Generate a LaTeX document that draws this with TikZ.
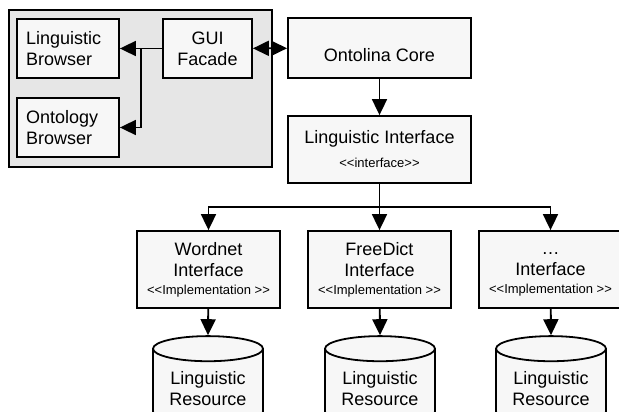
\documentclass[tikz,border=0pt]{standalone}
\usepackage{fontspec}
\setmainfont{Liberation Sans}
\usetikzlibrary{arrows.meta,shapes.geometric}

\definecolor{boxfill}{HTML}{F7F7F7}
\definecolor{panelfill}{HTML}{E6E6E6}

\tikzset{
    box/.style={draw, line width=1.8pt, fill=boxfill, inner sep=0pt,
        align=center, font=\fontsize{18}{21}\selectfont},
    store/.style={cylinder, shape border rotate=90, aspect=0.3, draw,
        line width=1.8pt, fill=boxfill, minimum width=110pt, minimum height=88pt,
        align=center, font=\fontsize{18}{21}\selectfont},
    link/.style={line width=1.8pt, -{Triangle[length=16pt,width=15pt]}},
}
\newcommand{\stereo}[1]{{\fontsize{13}{15}\selectfont <\kern0pt<#1>\kern0pt>}}

\begin{document}
\begin{tikzpicture}[x=1pt, y=-1pt]
        \useasboundingbox (0,0) rectangle (619,412);

        % GUI panel
        \node[draw, line width=1.8pt, fill=panelfill, minimum width=263pt, minimum height=157pt] (panel) at (140.5, 88.5) {};
        \node[box, minimum width=102pt, minimum height=59pt, text width=84pt, align=left] (lingbrowser) at (68, 48.5) {Linguistic\\Browser};
        \node[box, minimum width=102pt, minimum height=59pt, text width=84pt, align=left] (ontbrowser) at (68, 127.5) {Ontology\\Browser};
        \node[box, minimum width=89pt, minimum height=59pt] (gui) at (207.5, 48.5) {GUI\\Facade};

        % core and interfaces
        \node[box, minimum width=183pt, minimum height=60pt] (core) at (379.5, 48) {\raisebox{-13.5pt}[0pt][0pt]{Ontolina Core}};
        \node[box, minimum width=183pt, minimum height=67pt] (linginterface) at (379.5, 149.5) {Linguistic Interface\\[3pt]\stereo{interface}};
        \node[box, minimum width=143pt, minimum height=77pt] (wordnet) at (208.5, 269.5) {Wordnet\\Interface\\[-3pt]\stereo{Implementation }};
        \node[box, minimum width=143pt, minimum height=77pt] (freedict) at (379.5, 269.5) {FreeDict\\Interface\\[-3pt]\stereo{Implementation }};
        \node[box, minimum width=143pt, minimum height=77pt] (other) at (550.5, 269.5) {\vphantom{W}\dots\\Interface\\[-3pt]\stereo{Implementation }};

        % resources
        \node[store] (res1) at (208, 389) {Linguistic\\Resource};
        \node[store] (res2) at (380, 389) {Linguistic\\Resource};
        \node[store] (res3) at (551, 389) {Linguistic\\Resource};

        \coordinate (split) at (141, 48.5);
        \coordinate (bus) at (379.5, 207);

        \draw[link] (gui) to (lingbrowser);
        \draw[link] (split) |- (ontbrowser);
        \draw[link, {Triangle[length=16pt,width=15pt]}-{Triangle[length=16pt,width=15pt]}] (gui) to (core);
        \draw[link] (core) to (linginterface);
        \draw[line width=1.8pt] (linginterface) to (bus);
        \draw[link] (bus) -| (wordnet);
        \draw[link] (bus) to (freedict);
        \draw[link] (bus) -| (other);
        \draw[link] (wordnet) to (res1.top);
        \draw[link] (freedict) to (res2.top);
        \draw[link] (other) to (res3.top);
    \end{tikzpicture}
\end{document}
